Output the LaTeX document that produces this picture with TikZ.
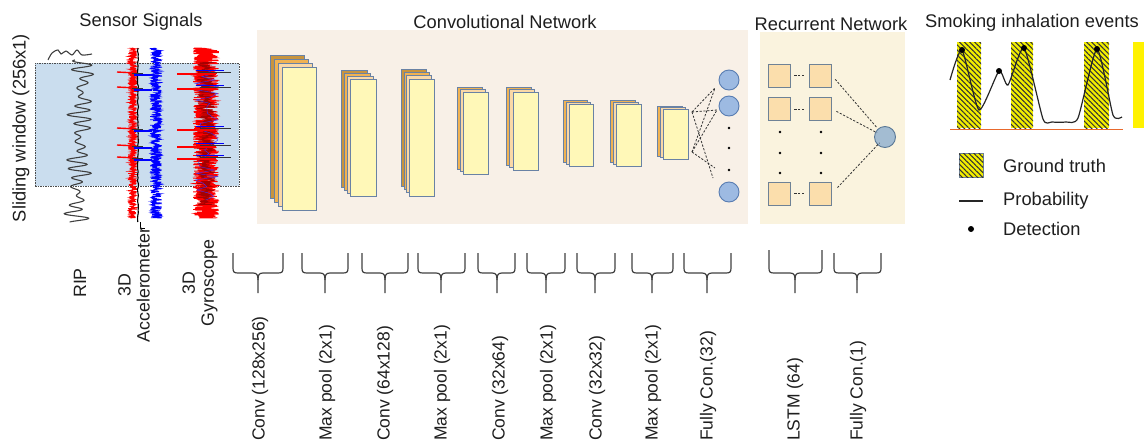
\documentclass[tikz,border=0pt]{standalone}
\usepackage{fontspec}
\setmainfont{Liberation Sans}
\usetikzlibrary{patterns.meta,calc}
\definecolor{convbg}{RGB}{248,240,231}
\definecolor{recbg}{RGB}{250,243,222}
\definecolor{winblue}{RGB}{202,221,238}
\definecolor{ldark}{RGB}{200,148,62}
\definecolor{lorange}{RGB}{240,178,82}
\definecolor{lpeach}{RGB}{250,216,166}
\definecolor{lyellow}{RGB}{255,248,184}
\definecolor{lborder}{RGB}{105,130,165}
\definecolor{nfill}{RGB}{157,186,226}
\definecolor{nborder}{RGB}{88,124,178}
\definecolor{sqfill}{RGB}{251,222,172}
\definecolor{sqborder}{RGB}{110,130,150}
\definecolor{rcfill}{RGB}{163,188,210}
\definecolor{rcborder}{RGB}{90,120,150}
\definecolor{txt}{RGB}{30,30,30}
\definecolor{hy}{RGB}{242,238,0}
\definecolor{baseor}{RGB}{232,105,45}
\newcommand\cnnstack[8]{%
  \foreach \k/\c in {3/ldark,2/lorange,1/lpeach,0/lyellow}{%
    \ifnum\k<#6\relax
      \node[layer, fill=\c, minimum width={#4-#2}, minimum height={#5-#3}] (#1-\k)
        at ({(#2+#4)/2-\k*#7},{(#3+#5)/2-\k*#8}) {};
    \fi}}
\newcommand\brk[4]{%
  \draw[brk] (#1,#4) -- (#1,268) .. controls (#1,272) and (#1+1,273) .. (#1+5,273)
     -- (#3-5,273) .. controls (#3-1,273) and (#3,275) .. (#3,280) -- (#3,293);
  \draw[brk] (#2,#4) -- (#2,268) .. controls (#2,272) and (#2-1,273) .. (#2-5,273)
     -- (#3+5,273) .. controls (#3+1,273) and (#3,275) .. (#3,280);}
\begin{document}
\begin{tikzpicture}[x={(1pt,0)}, y={(0,-1pt)},
  ttl/.style={font=\fontsize{18.3}{21}\selectfont, text=txt, inner sep=0},
  lbl/.style={font=\fontsize{17.5}{20}\selectfont, text=txt, inner sep=0, rotate=90, anchor=west},
  sig/.style={font=\fontsize{17.8}{19}\selectfont, text=txt, inner sep=0, rotate=90, align=center},
  layer/.style={draw=lborder, line width=0.9, inner sep=0, outer sep=0},
  fcn/.style={circle, draw=nborder, fill=nfill, line width=0.9, minimum size=20, inner sep=0},
  sq/.style={rectangle, draw=sqborder, fill=sqfill, line width=0.9, minimum width=22, minimum height=23, inner sep=0},
  rcn/.style={circle, draw=rcborder, fill=rcfill, line width=0.9, minimum size=21, inner sep=0},
  fcline/.style={black!80, line width=0.8, dash pattern=on 2.2 off 1.6},
  brk/.style={black!75, line width=1.2},
  rip/.style={black!75, line width=1.1},
  hbar/.style={fill=hy, inner sep=0, outer sep=0, postaction={pattern={Lines[angle=-45,distance=3.6pt,line width=1.05pt]}, pattern color=black!80}},
  det/.style={circle, fill=black, inner sep=0, minimum size=6},
  dotty/.style={circle, fill=black, inner sep=0, minimum size=2.6}]
\useasboundingbox (0,0) rectangle (1144,442);

% ---------- Sensor signals ----------
\node[ttl] (tsens) at (141,22) {Sensor Signals};
\node[ttl, rotate=90] (tslide) at (21,128) {Sliding window (256x1)};
\node[draw=black!70, dash pattern=on 1.5 off 1, fill=winblue, line width=0.8,
      minimum width=204, minimum height=123, inner sep=0] (win) at (137,124.5) {};
% RIP
\draw[rip] plot[smooth, tension=0.5] coordinates {(48,60) (52,53) (58,50) (61,54) (66,51) (72,55) (77,50) (82,55) (92,54)};
\draw[rip] plot[domain=60:222, samples=330, smooth] ({84-0.05*(\x-60)+(7+4*sin(7*\x))*sin(40*\x)+3*sin(15*\x)},\x);
% Accelerometer
\pgfmathsetseed{7}
\draw[red, line width=0.7] plot[domain=48:218, samples=700] ({132.5+4.5*rand},\x);
\draw[blue, line width=0.7] plot[domain=48:218, samples=700] ({156+6*rand},\x);
\draw[black, line width=1.1] plot[domain=48:222, samples=60] ({138+0.6*rand},\x);
\draw[black, line width=1] (140,222) -- (140,228) -- (145,228);
\foreach \yy in {72,87,128,145,157}{
  \draw[red, line width=1.4] (117,\yy) -- (137,\yy+1);
  \draw[blue, line width=1.3] (134,\yy+3) -- (152,\yy+3);
  \draw[black!80, line width=0.6] (132,\yy+1.5) -- (143,\yy+1.5);
}
% Gyroscope
\draw[red, line width=0.8] plot[domain=48:218, samples=1100] ({206+13*rand},\x);
\draw[red!65!black, line width=0.5] plot[domain=62:205, samples=500] ({206+9*rand},\x);
\draw[blue!80, line width=0.4] plot[domain=70:200, samples=40] ({206+12*rand},\x);
\foreach \yy in {72,87,128,145,157}{
  \draw[red, line width=1.4] (177,\yy+2) -- (216,\yy+2);
  \draw[black!80, line width=0.6] (200,\yy) -- (231,\yy);
  \draw[blue, line width=0.9] (196,\yy-2) -- (224,\yy-2);
}
\node[sig] (lrip) at (80,283) {RIP};
\node[sig] (lacc) at (134,285) {3D\\Accelerometer};
\node[sig] (lgyr) at (200,283) {3D\\Gyroscope};

% ---------- Convolutional network ----------
\node[fill=convbg, minimum width=491, minimum height=194, inner sep=0] (cbg) at (502.5,127) {};
\node[ttl] (tconv) at (505,22) {Convolutional Network};
\cnnstack{s1}{282}{67}{316}{210}{4}{4}{4}
\cnnstack{s2}{350}{79}{376}{196}{4}{3}{3}
\cnnstack{s3}{409}{79}{434}{196}{4}{2.5}{3.2}
\cnnstack{s4}{463}{92}{488}{174}{3}{3}{2.5}
\cnnstack{s5}{513}{92}{538}{170}{3}{3.5}{2.5}
\cnnstack{s6}{569}{104}{593}{166}{3}{3}{2}
\cnnstack{s7}{616}{104}{641}{166}{3}{3}{2}
\cnnstack{s8}{663}{109}{688}{159}{3}{3}{1.2}
\node[fcn] (c1) at (729,80) {};
\node[fcn] (c2) at (729,106) {};
\node[fcn] (c3) at (729,192) {};
\node[dotty] (cd1) at (729,128) {};
\node[dotty] (cd2) at (729,148) {};
\node[dotty] (cd3) at (729,170) {};
\coordinate (src1) at (692,112);
\coordinate (src2) at (692,152);
\coordinate (t1) at (715,88);
\coordinate (t2) at (717,110);
\coordinate (t3) at (715,168);
\coordinate (t4) at (713,178);
\draw[fcline] (src1) -- (t1);
\draw[fcline] (src1) -- (t2);
\draw[fcline] (src1) -- (t4);
\draw[fcline] (src2) -- (t1);
\draw[fcline] (src2) -- (t2);
\draw[fcline] (src2) -- (t3);

% ---------- Recurrent network ----------
\node[fill=recbg, minimum width=145, minimum height=192, inner sep=0] (rbg) at (832.5,128) {};
\node[ttl] (trec) at (831,24) {Recurrent Network};
\node[sq] (r1a) at (779,75.5) {};
\node[sq] (r1b) at (820.5,75.5) {};
\node[sq] (r2a) at (779,109) {};
\node[sq] (r2b) at (820.5,109) {};
\node[sq] (r3a) at (779,193.5) {};
\node[sq] (r3b) at (820.5,193.5) {};
\foreach \a/\b in {r1a/r1b,r2a/r2b,r3a/r3b}
  \draw[fcline, shorten <=4, shorten >=4] (\a.east) -- (\b.west);
\foreach \yy [count=\i] in {132,153,173}{
  \node[dotty] (rd\i a) at (780,\yy) {};
  \node[dotty] (rd\i b) at (821,\yy) {};
}
\node[rcn] (rc) at (885,137) {};
\draw[fcline, shorten <=5, shorten >=12] (r1b.east) -- (rc.center);
\draw[fcline, shorten <=5, shorten >=9] (r2b.east) -- (rc.center);
\draw[fcline, shorten <=8, shorten >=8] (r3b.east) -- (rc.center);

% ---------- Smoking inhalation events ----------
\node[ttl] (tsmk) at (1032,23) {Smoking inhalation events};
\node[hbar, minimum width=24, minimum height=86] (g1) at (969,85) {};
\node[hbar, minimum width=22, minimum height=86] (g2) at (1022,85) {};
\node[hbar, minimum width=25, minimum height=86] (g3) at (1096.5,85) {};
\node[fill=yellow, minimum width=12, minimum height=86, inner sep=0] (g4) at (1139,85) {};
\coordinate (bl0) at (950,129);
\coordinate (bl1) at (1123,129);
\draw[baseor, line width=1] (bl0) -- (bl1);
\draw[black!85, line width=1.2] plot[smooth, tension=0.35] coordinates {(950,80) (962,50) (979,110) (999,71) (1008,85) (1024,48) (1043,119) (1052,122) (1066,122) (1078,118) (1097,49) (1113,115) (1122,117)};
\node[det] (d1) at (962,50) {};
\node[det] (d2) at (999,71) {};
\node[det] (d3) at (1024,48) {};
\node[det] (d4) at (1097,49) {};
% legend
\node[hbar, draw=sqborder, line width=0.8, minimum width=24, minimum height=24] (lg1) at (971,165) {};
\node[ttl, anchor=west] (lgt1) at (1003,166) {Ground truth};
\coordinate (lp0) at (959,201);
\coordinate (lp1) at (983,201);
\draw[black!85, line width=1.3] (lp0) -- (lp1);
\node[ttl, anchor=west] (lgt2) at (1003,201) {Probability};
\node[det] (lg3) at (971,229) {};
\node[ttl, anchor=west] (lgt3) at (1003,229) {Detection};

% ---------- Brackets and layer labels ----------
\brk{233}{283}{258}{253}
\brk{302}{348}{325}{253}
\brk{362}{408}{385}{253}
\brk{418}{465}{441}{253}
\brk{478}{515}{497}{253}
\brk{527}{565}{546}{253}
\brk{577}{615}{595}{253}
\brk{632}{673}{652}{253}
\brk{684}{731}{707}{253}
\brk{769}{822}{795}{250}
\brk{834}{881}{857}{253}
\node[lbl] (L1) at (260,441) {Conv (128x256)};
\node[lbl] (L2) at (327,441) {Max pool (2x1)};
\node[lbl] (L3) at (385,441) {Conv (64x128)};
\node[lbl] (L4) at (442,441) {Max pool (2x1)};
\node[lbl] (L5) at (500,441) {Conv (32x64)};
\node[lbl] (L6) at (548,441) {Max pool (2x1)};
\node[lbl] (L7) at (597,441) {Conv (32x32)};
\node[lbl] (L8) at (653,441) {Max pool (2x1)};
\node[lbl] (L9) at (708,441) {Fully Con.(32)};
\node[lbl] (L10) at (795,441) {LSTM (64)};
\node[lbl] (L11) at (858,441) {Fully Con.(1)};
\end{tikzpicture}
\end{document}
